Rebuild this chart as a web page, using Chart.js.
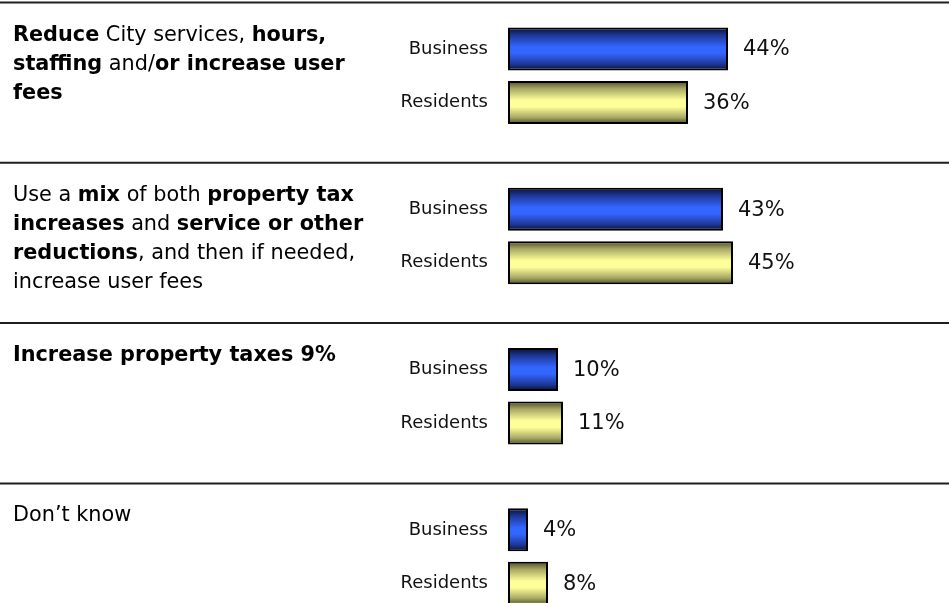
<!DOCTYPE html>
<html>
<head>
<meta charset="utf-8">
<script src="https://cdn.jsdelivr.net/npm/chart.js@4/dist/chart.umd.min.js"></script>
<style>
  html, body { margin: 0; padding: 0; background: #fff; overflow: hidden; }
  #wrap { position: relative; width: 949px; height: 610px; }
</style>
</head>
<body>
<div id="wrap"><canvas id="chart"></canvas></div>
<script>
// Survey answers: share of each group choosing the option (%)
const seriesNames = ['Business', 'Residents'];
const businessValues = [44, 43, 10, 4];
const residentValues = [36, 45, 11, 8];

// Option wording, one array of lines per option; each run is [text, bold]
const optionLabels = [
  [
    [['Reduce', true], [' City services, ', false], ['hours,', true]],
    [['staffing', true], [' and/', false], ['or increase user', true]],
    [['fees', true]]
  ],
  [
    [['Use a ', false], ['mix', true], [' of both ', false], ['property tax', true]],
    [['increases', true], [' and ', false], ['service or other', true]],
    [['reductions', true], [', and then if needed,', false]],
    [['increase user fees', false]]
  ],
  [
    [['Increase property taxes 9%', true]]
  ],
  [
    [['Don\u2019t know', false]]
  ]
];

const FONT = 'DejaVu Sans';
const SLOTS_PER_OPTION = 3; // Business, Residents, spacer

// Build the category slots and the two series laid out on them
const slotLabels = [];
const businessData = [];
const residentData = [];
businessValues.forEach((v, g) => {
  slotLabels.push(seriesNames[0], seriesNames[1]);
  businessData.push(v, null);
  residentData.push(null, residentValues[g]);
  if (g < businessValues.length - 1) {
    slotLabels.push('');
    businessData.push(null);
    residentData.push(null);
  }
});

const blueStops = [[0, '#08102e'], [0.18, '#1d3796'], [0.45, '#3366ff'], [0.6, '#3366ff'], [0.85, '#1d3796'], [1, '#08102e']];
const yellowStops = [[0, '#4a4a24'], [0.18, '#a8a865'], [0.45, '#ffff99'], [0.6, '#ffff99'], [0.85, '#a8a865'], [1, '#4a4a24']];

// Vertical shaded fill for every bar, from its own top to bottom
const shadedBars = {
  id: 'shadedBars',
  beforeDatasetsDraw(chart) {
    const ctx = chart.ctx;
    chart.data.datasets.forEach((ds, di) => {
      const meta = chart.getDatasetMeta(di);
      meta.data.forEach(el => {
        if (!el.options || !isFinite(el.y)) return;
        const top = el.y - el.height / 2;
        const g = ctx.createLinearGradient(0, top, 0, top + el.height);
        ds.stops.forEach(([o, c]) => g.addColorStop(o, c));
        el.options.backgroundColor = g;
      });
    });
  }
};

// Percentage printed to the right of each bar
const valueLabels = {
  id: 'valueLabels',
  afterDatasetsDraw(chart) {
    const ctx = chart.ctx;
    ctx.save();
    ctx.font = '21px "' + FONT + '"';
    ctx.fillStyle = '#111';
    ctx.textAlign = 'left';
    ctx.textBaseline = 'middle';
    chart.data.datasets.forEach((ds, di) => {
      const meta = chart.getDatasetMeta(di);
      meta.data.forEach((el, i) => {
        const v = ds.data[i];
        if (v === null || v === undefined) return;
        ctx.fillText(v + '%', el.x + 15, el.y + 1);
      });
    });
    ctx.restore();
  }
};

// Rules between options and the option wording at the left
const optionBlocks = {
  id: 'optionBlocks',
  afterDraw(chart) {
    const ctx = chart.ctx;
    const y = chart.scales.y;
    const slot = y.getPixelForValue(1) - y.getPixelForValue(0);
    ctx.save();
    optionLabels.forEach((lines, g) => {
      const ruleY = y.getPixelForValue(g * SLOTS_PER_OPTION) - 0.87 * slot;
      ctx.strokeStyle = '#1e1e1e';
      ctx.lineWidth = 2;
      ctx.beginPath();
      ctx.moveTo(0, ruleY);
      ctx.lineTo(chart.width, ruleY);
      ctx.stroke();

      ctx.fillStyle = '#000';
      ctx.textBaseline = 'alphabetic';
      ctx.textAlign = 'left';
      lines.forEach((runs, li) => {
        let x = 13;
        const base = ruleY + 38 + li * 29;
        runs.forEach(([text, bold]) => {
          ctx.font = (bold ? 'bold ' : '') + '20.8px "' + FONT + '"';
          ctx.fillText(text, x, base);
          x += ctx.measureText(text).width;
        });
      });
    });
    ctx.restore();
  }
};

new Chart(document.getElementById('chart'), {
  type: 'bar',
  data: {
    labels: slotLabels,
    datasets: [
      {
        label: seriesNames[0],
        data: businessData,
        stops: blueStops,
        backgroundColor: () => '#3366ff',
        borderColor: '#000',
        borderWidth: 2,
        borderSkipped: false
      },
      {
        label: seriesNames[1],
        data: residentData,
        stops: yellowStops,
        backgroundColor: () => '#ffff99',
        borderColor: '#000',
        borderWidth: 2,
        borderSkipped: false
      }
    ]
  },
  options: {
    indexAxis: 'y',
    responsive: true,
    maintainAspectRatio: false,
    animation: false,
    datasets: { bar: { grouped: false, categoryPercentage: 1, barPercentage: 0.805 } },
    layout: { padding: { top: 22.3, right: 1, bottom: 0, left: 0 } },
    plugins: { legend: { display: false }, tooltip: { enabled: false } },
    scales: {
      x: { display: false, min: 0, max: 88 },
      y: {
        grid: { display: false, drawTicks: false },
        border: { display: false },
        ticks: { color: '#111', padding: 20, font: { family: FONT, size: 18 } },
        afterFit(scale) {
          scale.width = 508;
          scale.paddingTop = 0;
          scale.paddingBottom = 0;
        }
      }
    }
  },
  plugins: [shadedBars, valueLabels, optionBlocks]
});
</script>
</body>
</html>
